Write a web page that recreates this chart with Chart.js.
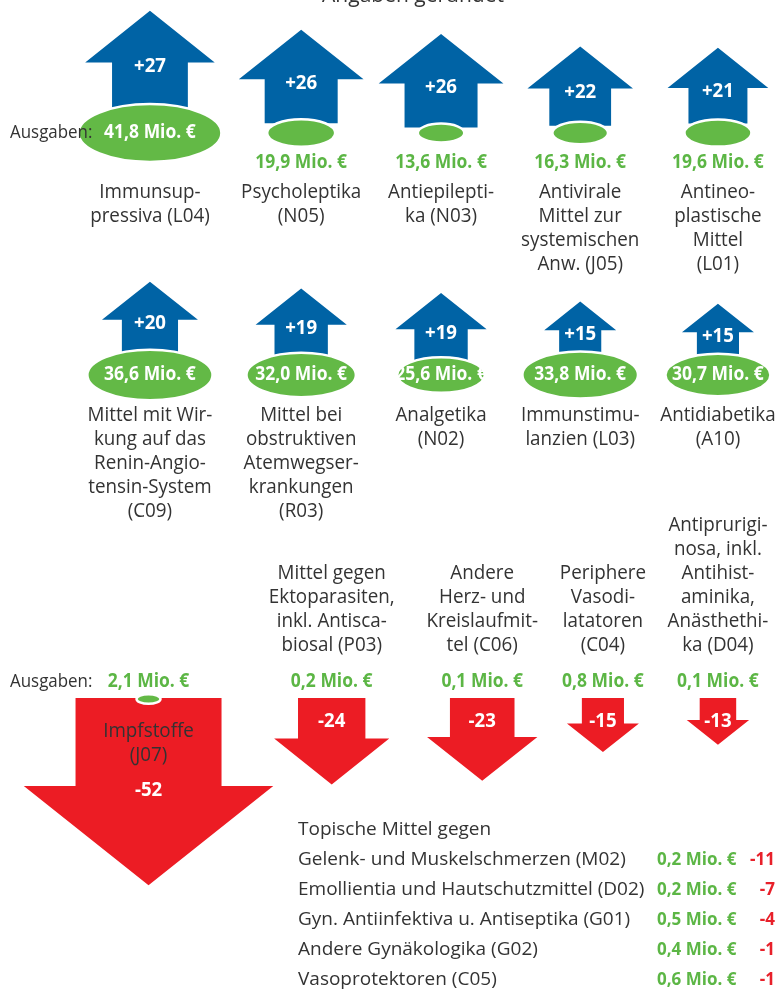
<!DOCTYPE html>
<html>
<head>
<meta charset="utf-8">
<script src="https://cdn.jsdelivr.net/npm/chart.js@4.4.1/dist/chart.umd.min.js"></script>
<style>
  html, body { margin: 0; padding: 0; background: #fff; }
  #wrap { width: 779px; height: 992px; }
</style>
</head>
<body>
<div id="wrap"><canvas id="arrowChart"></canvas></div>
<script>
// growth (top two rows), Veränderung in % and Ausgaben in Mio. €
const topNames = ['Immunsup-\npressiva (L04)', 'Psycholeptika\n(N05)', 'Antiepilepti-\nka (N03)',
  'Antivirale\nMittel zur\nsystemischen\nAnw. (J05)', 'Antineo-\nplastische\nMittel\n(L01)'];
const topChange = [27, 26, 26, 22, 21];
const topSpend = [41.8, 19.9, 13.6, 16.3, 19.6];

const midNames = ['Mittel mit Wir-\nkung auf das\nRenin-Angio-\ntensin-System\n(C09)',
  'Mittel bei\nobstruktiven\nAtemwegser-\nkrankungen\n(R03)', 'Analgetika\n(N02)',
  'Immunstimu-\nlanzien (L03)', 'Antidiabetika\n(A10)'];
const midChange = [20, 19, 19, 15, 15];
const midSpend = [36.6, 32.0, 25.6, 33.8, 30.7];

// decline
const downNames = ['Impfstoffe\n(J07)', 'Mittel gegen\nEktoparasiten,\ninkl. Antisca-\nbiosal (P03)',
  'Andere\nHerz- und\nKreislaufmit-\ntel (C06)', 'Periphere\nVasodi-\nlatatoren\n(C04)',
  'Antiprurigi-\nnosa, inkl.\nAntihist-\naminika,\nAnästhethi-\nka (D04)'];
const downChange = [-52, -24, -23, -15, -13];
const downSpend = [2.1, 0.2, 0.1, 0.8, 0.1];

const smallHead = 'Topische Mittel gegen';
const smallNames = ['Gelenk- und Muskelschmerzen (M02)', 'Emollientia und Hautschutzmittel (D02)',
  'Gyn. Antiinfektiva u. Antiseptika (G01)', 'Andere Gynäkologika (G02)', 'Vasoprotektoren (C05)'];
const smallSpend = [0.2, 0.2, 0.5, 0.4, 0.6];
const smallChange = [-11, -7, -4, -1, -1];

// column slots (in column units of the x scale)
const upSlots = [0, 1.065, 2.05, 3.03, 4];
const downSlots = [-0.01, 1.28, 2.34, 3.19, 4];

const BLUE = '#0063a5';
const RED = '#ec1c24';
const GREEN = '#63b946';
const GREEN_TXT = '#5cb645';
const DARK = '#333333';
const FONT = '"Open Sans", "Noto Sans", sans-serif';

const fmtSpend = v => v.toFixed(1).replace('.', ',') + ' Mio. €';
const fmtChange = v => (v > 0 ? '+' : '') + v;

function txt(ctx, s, x, y, size, color, o = {}) {
  ctx.save();
  ctx.font = (o.bold ? 'bold ' : '') + size + 'px ' + FONT;
  ctx.fillStyle = color;
  ctx.textAlign = o.align || 'center';
  ctx.textBaseline = o.base || 'middle';
  ctx.translate(x, y);
  ctx.scale(o.sx || 0.94, 1);
  ctx.fillText(s, 0, 0);
  ctx.restore();
}

function arrowPath(ctx, cx, start, L, dir, color) {
  // dir -1 = up (start is bottom), +1 = down (start is top)
  const hw = L * 1.333 / 2, sw = L * 0.78 / 2, hl = L * 0.53;
  const base = start + dir * (L - hl);
  ctx.beginPath();
  ctx.moveTo(cx - sw, start);
  ctx.lineTo(cx - sw, base);
  ctx.lineTo(cx - hw, base);
  ctx.lineTo(cx, start + dir * L);
  ctx.lineTo(cx + hw, base);
  ctx.lineTo(cx + sw, base);
  ctx.lineTo(cx + sw, start);
  ctx.closePath();
  ctx.fillStyle = color;
  ctx.fill();
  return base;
}

function blob(ctx, cx, cy, rx, ry) {
  ctx.beginPath();
  ctx.ellipse(cx, cy, rx, ry, 0, 0, Math.PI * 2);
  ctx.fillStyle = GREEN;
  ctx.fill();
  ctx.lineWidth = 2.5;
  ctx.strokeStyle = '#fff';
  ctx.stroke();
}

const arrowsPlugin = {
  id: 'arrows',
  afterDraw(chart) {
    const { ctx, scales } = chart;
    const X = scales.x, M = scales.mag, S = scales.spend;
    const len = v => Math.abs(M.getPixelForValue(Math.abs(v)) - M.getPixelForValue(0));
    const rad = v => S.getPixelForValue(v) - S.getPixelForValue(0);

    // title, cut at the top edge
    txt(ctx, 'Angaben gerundet', 413, 2, 21, DARK, { sx: 1, base: 'alphabetic' });

    function upRow(names, change, spend, baseY, namesY) {
      names.forEach((name, i) => {
        const cx = X.getPixelForValue(upSlots[i]);
        const rx = rad(spend[i]), ry = rx * 0.405;
        const L = len(change[i]);
        const bottom = baseY - ry + 4;
        const headBase = arrowPath(ctx, cx, bottom, L, -1, BLUE);
        blob(ctx, cx, baseY, rx, ry);
        txt(ctx, fmtChange(change[i]), cx, headBase + 4, 19, '#fff', { bold: true, sx: 0.98 });
        if (spend[i] >= 25) {
          txt(ctx, fmtSpend(spend[i]), cx, baseY, 19, '#fff', { bold: true, sx: 0.92 });
        } else {
          txt(ctx, fmtSpend(spend[i]), cx, baseY + 30, 19, GREEN_TXT, { bold: true, sx: 0.92 });
        }
        name.split('\n').forEach((line, k) => txt(ctx, line, cx, namesY + k * 24, 20, DARK));
      });
    }

    upRow(topNames, topChange, topSpend, 133, 192);
    txt(ctx, 'Ausgaben:', 10, 133, 18, DARK, { align: 'left' });
    upRow(midNames, midChange, midSpend, 375, 415);

    // declining row
    const shaftTop = 698;
    downNames.forEach((name, i) => {
      const cx = X.getPixelForValue(downSlots[i]);
      const L = len(downChange[i]);
      const headBase = arrowPath(ctx, cx, shaftTop, L, 1, RED);
      const lines = name.split('\n');
      if (headBase - shaftTop > 80) {
        lines.forEach((line, k) => txt(ctx, line, cx, shaftTop + 33 + k * 24, 20, DARK));
        txt(ctx, fmtChange(downChange[i]), cx, headBase + 5, 19, '#fff', { bold: true, sx: 0.98 });
      } else {
        lines.forEach((line, k) => txt(ctx, line, cx, 645 - (lines.length - 1 - k) * 24, 20, DARK));
        txt(ctx, fmtChange(downChange[i]), cx, shaftTop + 24, 19, '#fff', { bold: true, sx: 0.98 });
      }
      if (downSpend[i] >= 1) {
        const rx = Math.max(rad(downSpend[i]), 12);
        blob(ctx, cx, shaftTop + 1, rx, Math.max(rx * 0.405, 4.5));
      }
      txt(ctx, fmtSpend(downSpend[i]), cx, 682, 19, GREEN_TXT, { bold: true, sx: 0.92 });
    });
    txt(ctx, 'Ausgaben:', 10, 682, 18, DARK, { align: 'left' });

    // small list
    txt(ctx, smallHead, 298, 830, 19, DARK, { align: 'left', sx: 1 });
    smallNames.forEach((name, i) => {
      const y = 860 + i * 30;
      txt(ctx, name, 298, y, 19, DARK, { align: 'left', sx: 1 });
      txt(ctx, fmtSpend(smallSpend[i]), 657, y, 17, GREEN_TXT, { align: 'left', bold: true, sx: 1 });
      txt(ctx, fmtChange(smallChange[i]), 775, y, 17, '#e8202a', { align: 'right', bold: true, sx: 1 });
    });
  }
};

new Chart(document.getElementById('arrowChart').getContext('2d'), {
  type: 'scatter',
  data: { datasets: [] },
  options: {
    responsive: true,
    maintainAspectRatio: false,
    animation: false,
    events: [],
    layout: { padding: 0 },
    plugins: { legend: { display: false }, tooltip: { enabled: false } },
    scales: {
      x: { type: 'linear', display: false, min: -1.056, max: 4.43 },
      y: { type: 'linear', display: false, reverse: true, min: 0, max: 992 },
      mag: { type: 'linear', axis: 'y', display: false, min: 0, max: 275.6 },   // 3.6 px per %-point
      spend: { type: 'linear', axis: 'x', display: false, min: 0, max: 455.6 }  // 1.71 px per Mio. €
    }
  },
  plugins: [arrowsPlugin]
});
</script>
</body>
</html>
